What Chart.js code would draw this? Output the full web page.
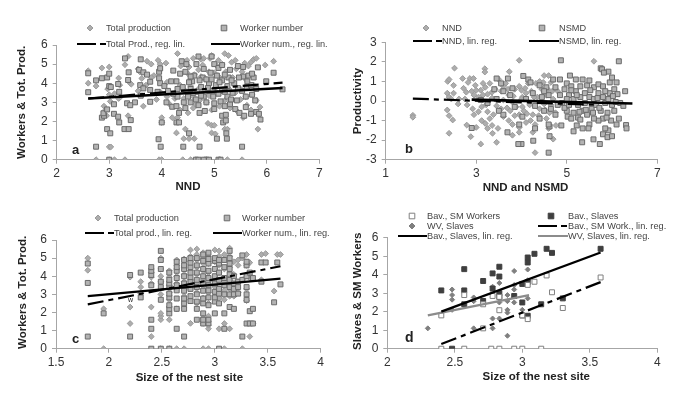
<!DOCTYPE html>
<html><head><meta charset="utf-8">
<style>
html,body{margin:0;padding:0;background:#fff;overflow:hidden}
body{width:685px;height:400px;position:relative}
canvas{position:absolute;filter:blur(.45px)}
</style>
<script src="https://cdn.jsdelivr.net/npm/chart.js@4"></script>
</head><body>
<canvas id="ca" width="342" height="200" style="left:0;top:0"></canvas>
<canvas id="cb" width="343" height="200" style="left:342px;top:0"></canvas>
<canvas id="cc" width="342" height="200" style="left:0;top:200px"></canvas>
<canvas id="cd" width="343" height="200" style="left:342px;top:200px"></canvas>
<script>
// ---- panel a ----
const aTotalProduction=[[2.6,4.65],[2.6,4.0],[2.75,3.85],[2.75,0],[2.86,4.8],[2.9,2.8],[2.93,2.6],[2.95,2.3],[2.97,3.7],[3.0,4.85],[3.0,3.4],[3.0,0.67],[3.03,0.67],[3.0,0],[3.02,3.05],[3.1,0],[3.18,4.27],[3.18,3.2],[3.22,3.3],[3.3,0],[3.3,4.97],[3.36,5.4],[3.36,2.3],[3.4,4.0],[3.42,3.95],[3.55,4.75],[3.58,4.6],[3.62,4.25],[3.65,2.8],[3.72,5.15],[3.8,5.0],[3.85,4.4],[3.93,5.2],[3.97,5.0],[3.97,3.55],[3.95,0],[4.0,0],[4.0,2.2],[4.0,1.95],[4.08,5.05],[4.1,4.05],[4.1,3.3],[4.2,2.2],[4.28,1.4],[4.3,2.2],[4.3,5.55],[4.36,4.9],[4.4,5.0],[4.42,1.1],[4.4,0],[4.48,5.2],[4.45,1.6],[4.52,1.1],[4.55,0],[4.62,1.1],[4.65,0],[4.6,5.3],[4.55,4.2],[4.6,3.3],[4.7,4.7],[4.7,3.7],[4.75,5.25],[4.8,5.3],[4.85,4.2],[4.85,3.0],[4.85,0],[4.88,1.9],[4.95,1.8],[5.0,1.8],[4.95,1.4],[5.02,1.35],[4.92,5.3],[4.95,5.45],[5.05,4.9],[5.05,3.5],[5.1,0],[5.2,5.55],[5.15,5.0],[5.2,1.6],[5.25,1.6],[5.2,3.1],[5.27,5.45],[5.25,0],[5.33,5.1],[5.4,5.2],[5.35,4.3],[5.4,3.5],[5.53,0],[5.53,4.6],[5.6,3.3],[5.65,4.9],[5.7,5.1],[5.75,5.25],[5.8,5.3],[5.72,3.4],[5.8,3.1],[5.83,1.6],[5.87,2.75],[5.97,4.95],[6.13,5.15],[4.35,3.9],[4.45,3.6],[4.5,4.5],[4.65,2.9],[4.75,4.35],[4.95,2.6],[5.1,4.3],[5.3,2.7],[5.45,2.5],[5.6,4.2],[5.5,3.7],[5.1,2.8],[4.8,3.6],[4.6,2.7],[4.25,3.2],[3.8,4.3],[3.55,3.6],[3.2,3.9],[3.1,3.45],[5.7,2.6],[5.55,2.2],[4.55,3.85],[4.9,4.6],[4.52,4.85],[4.62,4.45],[4.78,4.95],[5.0,4.55],[5.08,5.2],[5.22,4.6],[5.42,4.75],[5.58,5.05],[5.68,4.45],[4.42,3.2],[4.5,2.45],[4.72,3.1],[4.9,3.35],[5.02,3.75],[5.28,3.7],[5.5,3.15],[5.62,2.85],[5.75,3.9],[4.15,2.9],[4.35,2.6],[3.9,3.15],[3.7,3.9]];
const aWorkerNumber=[[2.6,4.52],[2.6,3.53],[2.75,4.15],[2.86,4.26],[2.96,4.3],[3.0,4.5],[2.75,0.68],[3.0,0],[3.0,3.85],[3.03,3.8],[2.86,2.2],[2.9,2.3],[2.89,2.43],[2.96,2.63],[2.96,1.6],[3.02,1.38],[3.09,2.4],[3.17,2.25],[3.19,1.95],[3.09,2.9],[3.17,3.96],[3.19,3.55],[3.29,1.6],[3.37,1.6],[3.3,5.3],[3.37,4.57],[3.36,4.17],[3.34,2.95],[3.41,2.07],[3.49,3.0],[3.4,2.85],[3.6,5.25],[3.57,4.7],[3.65,4.57],[3.59,3.9],[3.65,3.73],[3.6,3.35],[3.78,4.08],[3.78,3.65],[3.78,3.03],[3.95,4.6],[3.97,4.78],[3.95,4.26],[3.97,4.0],[3.94,1.07],[3.98,0.68],[4.0,1.95],[4.09,3.0],[4.05,3.85],[4.22,4.66],[4.2,2.77],[4.28,2.8],[4.3,3.3],[4.28,1.95],[4.33,1.95],[4.41,0.68],[4.52,1.38],[4.28,4.1],[4.35,4.5],[4.38,5.15],[4.45,4.6],[4.47,5.0],[4.4,3.8],[4.42,3.0],[4.45,2.7],[4.33,2.45],[4.55,3.0],[4.6,3.5],[4.58,4.1],[4.62,4.4],[4.7,5.4],[4.66,5.0],[4.65,3.15],[4.7,2.85],[4.72,2.45],[4.75,3.8],[4.78,4.3],[4.8,4.75],[4.8,3.3],[4.82,2.55],[4.72,0.68],[4.65,0],[4.7,0],[4.85,0],[4.8,0],[4.9,0],[4.9,3.6],[4.9,4.0],[4.93,4.55],[4.95,5.4],[5.0,5.0],[4.98,3.3],[5.0,2.95],[5.0,2.65],[5.03,3.9],[5.05,4.4],[5.08,4.8],[5.05,1.1],[5.08,0],[5.12,0],[5.15,2.3],[5.17,1.95],[5.12,3.05],[5.15,3.6],[5.15,4.15],[5.15,4.95],[5.2,2.8],[5.22,2.35],[5.22,2.05],[5.23,1.38],[5.24,1.1],[5.25,3.3],[5.25,3.85],[5.27,4.3],[5.3,4.7],[5.3,2.9],[5.35,3.5],[5.38,4.0],[5.4,2.65],[5.43,3.1],[5.45,4.9],[5.48,2.45],[5.53,0.68],[5.53,3.6],[5.55,4.35],[5.55,4.85],[5.57,2.3],[5.6,2.75],[5.62,3.8],[5.65,4.4],[5.7,3.9],[5.7,2.4],[5.72,3.4],[5.75,4.3],[5.78,3.1],[5.8,2.5],[5.8,3.7],[5.83,4.83],[5.85,2.4],[5.88,2.1],[5.99,4.1],[6.13,4.55],[6.3,3.68],[4.5,3.3],[4.52,4.05],[4.55,4.35],[4.55,3.7],[4.68,3.55],[4.72,4.15],[4.75,3.35],[4.85,3.0],[4.85,4.2],[4.88,3.75],[4.95,4.2],[4.97,3.6],[5.08,3.45],[5.1,4.05],[5.2,3.55],[5.2,4.45],[5.32,3.15],[5.33,4.15],[5.45,3.75],[5.47,4.3],[5.6,3.3],[5.63,4.1],[5.72,4.5],[4.3,3.7],[4.22,3.45],[4.18,4.1],[4.12,3.6],[3.92,3.55],[3.72,4.45]];
const aProdLine=[[2.6,3.2],[6.3,4.03]];
const aWorkerLine=[[2.6,3.2],[6.3,3.75]];
// ---- panel b ----
const bNND=[[1.6,-0.73],[1.6,-0.83],[2.52,1.68],[2.37,1.0],[2.4,1.1],[2.36,0.4],[2.4,0.2],[2.36,-0.46],[2.4,-0.75],[2.48,-0.97],[2.4,-1.65],[2.5,0.4],[2.5,0.8],[2.45,0.1],[2.6,-0.15],[2.7,1.15],[2.72,0.65],[2.78,0.45],[2.86,1.15],[2.94,1.15],[2.82,0.95],[2.9,0.5],[2.98,0.8],[2.8,-0.2],[2.92,-0.4],[2.95,-0.7],[2.79,-1.23],[2.88,-1.82],[3.0,-1.35],[3.1,-2.2],[3.19,1.65],[3.19,1.48],[3.15,0.9],[3.2,0.7],[3.1,0.55],[3.25,0.35],[3.05,0.2],[3.12,-0.3],[3.25,-0.55],[3.3,-0.9],[3.12,-1.0],[3.2,-1.15],[3.25,-1.4],[3.35,-1.25],[3.36,-1.65],[3.45,-2.11],[3.38,-0.7],[3.42,0.6],[3.5,1.1],[3.55,0.5],[3.55,-0.4],[3.48,-1.4],[3.6,-0.8],[3.65,0.9],[3.73,1.5],[3.72,0.3],[3.75,-0.5],[3.72,-1.0],[3.8,-1.75],[3.8,-1.2],[3.85,0.6],[3.88,-0.3],[3.95,2.08],[3.95,0.75],[3.95,-0.7],[3.95,-1.35],[3.95,-1.6],[4.02,0.2],[4.05,-0.5],[4.08,0.65],[4.1,-1.1],[4.15,0.9],[4.18,-0.2],[4.22,0.5],[4.25,-0.7],[4.25,-1.6],[4.3,-2.64],[4.3,-1.2],[4.32,0.9],[4.35,0.2],[4.4,-0.4],[4.4,1.0],[4.45,0.6],[4.5,1.3],[4.55,-0.9],[4.55,0.3],[4.6,1.3],[4.6,-1.4],[4.62,-0.6],[4.65,0.95],[4.7,0.1],[4.7,-1.95],[4.75,-0.6],[4.76,-1.25],[4.8,0.5],[2.62,0.1],[2.75,0.1],[3.35,0.15],[3.6,0.05],[3.8,-0.05],[4.0,0.1],[4.1,0.4],[4.5,-0.15],[3.05,-0.55],[3.3,0.9],[3.7,0.6],[4.2,-1.0],[4.65,-0.2],[5.6,2.03],[2.95,0.3],[3.0,0.55],[3.15,0.3],[3.22,-0.2],[3.35,0.45],[3.45,-0.25],[3.6,0.75],[3.68,-0.35],[3.82,0.25],[3.85,-0.75],[4.0,0.55],[4.02,-0.3],[4.12,-0.65],[4.28,0.2],[4.38,-0.75],[4.48,0.95],[4.52,-0.45],[4.68,0.5],[4.58,0.6]];
const bNSMD=[[4.87,2.08],[6.15,2.03],[5.75,1.67],[5.78,1.62],[5.92,1.5],[5.82,1.45],[4.6,-2.64],[5.34,-2.11],[5.73,-2.2],[5.59,-1.96],[4.26,-2.03],[4.0,-2.2],[3.93,-2.2],[2.9,-1.38],[3.69,-1.6],[5.07,1.3],[3.45,1.15],[3.7,1.15],[4.04,1.28],[6.29,0.5],[6.31,-1.23],[6.32,-1.4],[4.62,-1.8],[4.62,-1.3],[4.6,-1.2],[4.88,-1.25],[5.15,-1.55],[5.22,-1.25],[5.35,-1.4],[5.5,-1.2],[5.48,-1.4],[5.8,-1.7],[5.9,-1.85],[5.92,-1.5],[6.0,-1.8],[5.85,-1.4],[6.1,-1.2],[5.98,-1.0],[5.8,-0.9],[5.7,-1.0],[6.15,-0.9],[3.5,-0.5],[3.6,-0.7],[3.4,0.6],[3.55,0.9],[3.6,0.5],[3.75,0.3],[3.85,-0.3],[3.95,-1.2],[4.02,-0.8],[4.15,1.1],[4.25,0.4],[4.3,-1.4],[4.4,0.8],[4.4,-0.9],[4.45,0.2],[4.5,-0.5],[4.55,0.7],[4.6,0.3],[4.65,-0.4],[4.7,1.1],[4.85,1.1],[4.75,0.7],[4.85,0.3],[4.9,-0.1],[4.95,0.6],[5.0,0.9],[5.0,-0.5],[5.02,-0.8],[5.05,0.3],[5.1,0.75],[5.1,-0.9],[5.15,0.1],[5.15,-0.6],[5.2,1.1],[5.2,0.5],[5.25,-0.2],[5.25,-0.85],[5.3,0.75],[5.3,0.2],[5.35,1.1],[5.35,-0.5],[5.4,0.4],[5.4,-0.1],[5.45,0.8],[5.45,-0.7],[5.5,1.05],[5.5,0.2],[5.55,-0.4],[5.6,0.7],[5.6,-0.9],[5.6,0.1],[5.65,-0.2],[5.7,0.85],[5.7,0.4],[5.75,-0.5],[5.8,0.75],[5.8,0.2],[5.85,-0.1],[5.9,-0.6],[5.95,0.95],[5.95,0.4],[6.0,1.2],[6.0,-0.2],[6.05,0.6],[6.05,-0.5],[6.1,0.95],[6.12,0.35],[6.18,-0.1],[6.25,-0.25],[5.0,0.1],[5.22,0.3],[3.1,0.05],[3.25,-0.1],[3.45,0.1],[3.8,0.65],[4.1,0.1],[4.2,0.95],[4.3,-0.25],[4.5,0.5],[4.75,-0.7],[4.8,-0.2],[4.95,-0.35],[5.05,-0.2],[5.28,-0.55],[5.42,-0.45],[5.52,0.55],[5.58,-0.6],[5.68,0.15],[5.72,-0.35],[5.85,0.5],[5.88,-0.85],[5.92,0.1],[6.02,0.25],[6.08,-0.05],[5.3,-0.95],[5.1,0.55]];
const bNNDLine=[[1.6,0.12],[5.7,-0.2]];
const bNSMDLine=[[2.9,0.07],[6.45,-0.13]];
// ---- panel c: [site size, values...] columns ----
const cTotalProductionColumns=[[1.8,4.33,5.0],[1.95,0,2.2],[2.2,1.39,2.3,3.95],[2.3,3.05,3.4,3.7],[2.4,0.67,2.3,3.6,3.95,4.2],[2.49,0,1.6,1.8,1.95,3.0,3.7,4.0,4.4,5.0],[2.57,0,1.6,2.3,2.7,3.1,3.5,3.95,4.3],[2.64,0,2.2,3.3,3.6,4.0,4.6,4.9],[2.71,0,2.3,2.9,3.3,3.7,4.1,4.5,4.95],[2.77,1.4,2.7,3.3,3.8,4.3,4.8,5.1,5.45],[2.83,2.5,3.1,3.6,4.1,4.5,4.9,5.2,5.5],[2.89,0,1.4,1.7,2.8,3.3,3.8,4.3,4.7,5.0,5.3],[2.94,0,1.1,1.3,1.8,2.5,3.1,3.7,4.2,4.7,5.1],[3.0,2.9,3.4,3.9,4.4,4.8,5.45],[3.04,1.1,2.8,3.2,3.7,4.2,4.6,5.1,5.4],[3.09,0,1.39,2.7,3.2,3.7,4.4,4.9,5.2],[3.14,1.1,2.9,3.3,3.9,4.5,5.1,5.55],[3.18,2.9,3.4,4.1,4.8],[3.22,3.1,3.7,4.6,4.9],[3.26,0,3.8,5.0],[3.3,2.65,3.3,4.0,4.6,5.2],[3.33,0.67,1.4,3.9,4.75],[3.36,1.4],[3.44,3.8,5.2],[3.48,5.25],[3.56,3.18],[3.59,5.2],[3.62,5.2]];
const cWorkerNumberColumns=[[1.8,0.67,3.63,4.7],[1.95,1.95],[2.2,0.67,4.07],[2.3,2.83,4.2],[2.4,0,1.1,1.6,3.5,4.07,4.3,4.5],[2.49,0,2.7,3.4,3.7,4.4,4.9,5.4],[2.57,0,1.95,2.2,2.4,2.83,3.04,3.4,3.6,3.8,4.2],[2.64,1.1,2.2,2.77,3.22,3.5,3.9,4.3,4.5,4.8],[2.71,0.67,2.2,2.5,2.77,3.2,3.6,4.0,4.4,4.6,4.9],[2.77,2.63,2.9,3.3,3.7,3.95,4.2,4.5,4.75,5.0],[2.83,1.6,2.2,2.6,3.0,3.4,3.8,4.2,4.6,5.0],[2.89,1.39,1.6,1.95,2.5,2.77,3.2,3.6,4.0,4.4,4.85,5.2],[2.94,1.4,1.6,2.4,2.83,3.22,3.5,3.9,4.3,4.7,4.95,5.3],[3.0,1.95,2.6,2.83,3.14,3.6,4.0,4.4,4.85,5.0],[3.04,0,2.5,3.04,3.3,3.8,4.2,4.7,4.9],[3.09,1.1,1.95,3.0,3.5,3.9,4.5,4.9],[3.14,2.3,3.0,3.4,3.8,4.1,4.4,4.7,5.0,5.4],[3.18,2.2,3.0,3.3,3.6,4.0],[3.22,3.04,3.4,3.7],[3.26,0.67,3.8,5.15],[3.3,1.39,2.7,3.0,3.4,4.0,4.6,4.8],[3.33,1.39,2.07,4.2],[3.36,1.39,2.2,3.9],[3.44,3.7,4.76],[3.48,4.76],[3.56,2.56],[3.59,4.76],[3.62,3.55]];
const cProdLine=[[1.8,2.45],[3.62,4.55]];
const cWorkerLine=[[1.8,2.9],[3.62,3.87]];
// ---- panel d ----
const dBavWorkers=[[2.4,0],[2.57,0],[2.77,0],[2.83,0],[2.94,0],[3.0,0],[3.14,0],[2.4,1.8],[2.57,2.9],[2.71,2.4],[2.71,1.1],[2.78,2.85],[2.83,2.08],[2.83,2.8],[3.0,1.8],[3.04,3.45],[3.04,1.6],[3.09,3.62],[3.18,3.96],[3.22,3.05],[3.3,2.2],[3.58,3.85]];
const dBavSlaves=[[2.48,0],[2.4,3.15],[2.57,4.3],[2.57,3.15],[2.57,2.4],[2.71,3.66],[2.71,2.58],[2.78,4.07],[2.78,3.25],[2.83,4.43],[2.83,3.9],[2.83,3.0],[2.83,2.8],[2.94,2.85],[3.0,3.5],[3.0,2.5],[3.0,1.8],[3.04,4.93],[3.04,4.66],[3.04,3.6],[3.04,1.78],[3.09,5.13],[3.14,2.4],[3.18,5.4],[3.22,5.18],[3.3,2.72],[3.58,5.4]];
const dWVSlaves=[[2.3,1.1],[2.48,3.2],[2.48,2.9],[2.48,2.65],[2.48,2.1],[2.64,2.77],[2.64,2.57],[2.64,1.1],[2.78,3.35],[2.78,1.63],[2.78,1.1],[2.83,3.55],[2.83,2.5],[2.83,1.63],[2.89,2.9],[2.89,2.57],[2.89,2.1],[2.89,1.95],[2.89,0.7],[2.94,4.2],[2.94,3.44],[2.94,3.2],[2.94,2.5],[3.0,2.1],[3.04,4.28],[3.04,3.7],[3.04,2.72]];
const dBavWorkersLine=[[2.4,0.25],[3.58,3.6]];
const dBavSlavesLine=[[2.4,2.0],[3.58,5.2]];
const dWVSlavesLine=[[2.3,1.8],[3.05,2.9]];

const FONT='"Liberation Sans",Arial,sans-serif';
const pts=a=>a.map(([x,y])=>({x,y}));
const cols=c=>c.flatMap(([x,...ys])=>ys.map(y=>({x,y})));
const diamond=(label,data,fill='#adadad',edge='#9a9a9a',r=2.9)=>({type:'scatter',label,data,order:3,pointStyle:'rectRot',pointRadius:r,backgroundColor:fill,borderColor:edge,pointBorderWidth:1});
const square=(label,data,fill='#b3b3b3',edge='#6a6a6a',order=2)=>({type:'scatter',label,data,order,pointStyle:'rect',pointRadius:3.5,backgroundColor:fill,borderColor:edge,pointBorderWidth:1});
const line=(label,data,color='#000',dash=[],w=2.2)=>({type:'scatter',label,data:pts(data),order:1,showLine:true,pointRadius:0,borderColor:color,borderWidth:w,borderDash:dash,backgroundColor:color,clip:false});

const panelText={
 id:'panelText',
 afterDatasetsDraw(chart,args,o){
  const c=chart.ctx;c.save();
  c.textBaseline='middle';c.textAlign='left';
  for(const it of o.legend){
   const d=chart.data.datasets[it.i];
   c.font='9.2px '+FONT;c.fillStyle='#444';
   c.fillText(d.label,it.tx,it.y);
   if(d.showLine){
    c.strokeStyle=d.borderColor;c.lineWidth=2;c.setLineDash(d.borderDash.length?[19,4,6,4]:[]);
    c.beginPath();c.moveTo(it.x0,it.y);c.lineTo(it.tx,it.y);c.stroke();c.setLineDash([]);
   }else{
    c.fillStyle=d.backgroundColor;c.strokeStyle=d.borderColor;c.lineWidth=1;
    c.beginPath();
    if(d.pointStyle==='rectRot'){c.moveTo(it.mx-3,it.y);c.lineTo(it.mx,it.y-3);c.lineTo(it.mx+3,it.y);c.lineTo(it.mx,it.y+3);c.closePath();}
    else c.rect(it.mx-2.8,it.y-2.8,5.6,5.6);
    c.fill();c.stroke();
   }
  }
  c.fillStyle='#222';
  for(const t of o.notes){c.font=t.font+FONT;c.fillText(t.text,t.x,t.y);}
  c.restore();
 }
};

// nudges a scale's native title along its own axis
function shiftTitle(s,dx,dy){
 if(s.$shifted)return;s.$shifted=true;
 const orig=s.drawTitle;
 s.drawTitle=function(){const c=this.ctx;c.save();c.translate(dx,dy);orig.call(this);c.restore();};
}

function draw(id,p){
 new Chart(document.getElementById(id),{
  data:{datasets:p.datasets},
  plugins:[panelText],
  options:{
   responsive:false,animation:false,
   layout:{autoPadding:false,padding:{top:p.top,right:p.right,left:0,bottom:0}},
   plugins:{legend:{display:false},tooltip:{enabled:false},title:{display:false},panelText:{legend:p.legend,notes:p.notes}},
   scales:{
    x:{type:'linear',min:p.xMin,max:p.xMax,afterFit:s=>{s.height=p.bottom;shiftTitle(s,p.xTitleShift||0,0)},
     afterBuildTicks:s=>{s.ticks=p.xTicks.map(value=>({value}))},
     grid:{drawOnChartArea:false,color:'#a6a6a6',tickLength:4},border:{color:'#a6a6a6'},
     ticks:{color:'#333',font:{family:FONT,size:12},padding:3,maxRotation:0,autoSkip:false,callback:v=>String(v)},
     title:{display:true,text:p.xTitle,color:'#222',font:{family:FONT,size:11.5,weight:'bold'},padding:{top:0,bottom:p.xTitleBottom}}},
    y:{type:'linear',min:p.yMin,max:p.yMax,afterFit:s=>{s.width=p.left;shiftTitle(s,0,p.yTitleShift||0)},
     afterBuildTicks:s=>{s.ticks=p.yTicks.map(value=>({value}))},
     grid:{drawOnChartArea:false,color:'#a6a6a6',tickLength:4},border:{color:'#a6a6a6'},
     ticks:{color:'#333',font:{family:FONT,size:12},padding:5,autoSkip:false,callback:v=>String(v)},
     title:{display:true,text:p.yTitle,color:'#222',font:{family:FONT,size:11.5,weight:'bold'},padding:{top:p.yTitleLeft,bottom:0}}}
   }
  }
 });
}

const workerTicks=[0,1,2,3,4,5,6];
draw('ca',{
 datasets:[diamond('Total production',pts(aTotalProduction)),square('Worker number',pts(aWorkerNumber)),line('Total Prod., reg. lin.',aProdLine,'#000',[16,5,5,5]),line('Worker num., reg. lin.',aWorkerLine,'#000',[],2.6)],
 top:45,left:56.7,right:22.7,bottom:40.3,xMin:2,xMax:7,yMin:0,yMax:6,xTicks:[2,3,4,5,6,7],yTicks:workerTicks,
 xTitle:'NND',yTitle:'Workers & Tot. Prod.',xTitleBottom:6,yTitleLeft:15,
 legend:[{i:0,mx:90,tx:106,y:28},{i:1,mx:224,tx:240,y:28},{i:2,x0:77,tx:106,y:44},{i:3,x0:211,tx:240,y:44}],
 notes:[{text:'a',x:72,y:150,font:'bold 13px '}]
});
draw('cb',{
 datasets:[diamond('NND',pts(bNND)),square('NSMD',pts(bNSMD)),line('NND, lin. reg.',bNNDLine,'#000',[16,5,5,5]),line('NSMD, lin. reg.',bNSMDLine,'#000',[],2.6)],
 top:42.3,left:43.7,right:27.7,bottom:40.3,xMin:1,xMax:7,yMin:-3,yMax:3,xTicks:[1,3,5,7],yTicks:[-3,-2,-1,0,1,2,3],
 xTitle:'NND and NSMD',yTitle:'Productivity',xTitleBottom:5,yTitleLeft:9,xTitleShift:4,
 legend:[{i:0,mx:84,tx:100,y:28},{i:1,mx:200,tx:217,y:28},{i:2,x0:71,tx:100,y:41},{i:3,x0:187,tx:217,y:41}],
 notes:[{text:'b',x:63,y:149,font:'bold 13px '}]
});
draw('cc',{
 datasets:[diamond('Total production',cols(cTotalProductionColumns)),square('Worker number',cols(cWorkerNumberColumns)),line('Total prod., lin. reg.',cProdLine,'#000',[16,5,5,5]),line('Worker num., lin. reg.',cWorkerLine,'#000',[],2.2)],
 top:40,left:56,right:21.3,bottom:51.3,xMin:1.5,xMax:4,yMin:0,yMax:6,xTicks:[1.5,2,2.5,3,3.5,4],yTicks:workerTicks,
 xTitle:'Size of the nest site',yTitle:'Workers & Tot. Prod.',xTitleBottom:15,yTitleLeft:16,xTitleShift:1,yTitleShift:-2,
 legend:[{i:0,mx:98,tx:114,y:18},{i:1,mx:227,tx:242,y:18},{i:2,x0:85,tx:114,y:33},{i:3,x0:213,tx:242,y:33}],
 notes:[{text:'c',x:72,y:139,font:'bold 13px '},{text:'w',x:128,y:100,font:'7px '}]
});
draw('cd',{
 datasets:[square('Bav., SM Workers',pts(dBavWorkers),'#fff','#808080'),square('Bav., Slaves',pts(dBavSlaves),'#3f3f3f','#3f3f3f'),diamond('WV, Slaves',pts(dWVSlaves),'#7f7f7f','#7f7f7f',2.5),line('Bav., SM Work., lin. reg.',dBavWorkersLine,'#000',[16,5,5,5]),line('Bav., Slaves, lin. reg.',dBavSlavesLine,'#000',[],2.4),line('WV, Slaves, lin. reg.',dWVSlavesLine,'#8c8c8c',[],2.2)],
 top:37.7,left:45.3,right:27.7,bottom:51.3,xMin:2,xMax:4,yMin:0,yMax:6,xTicks:[2,2.5,3,3.5,4],yTicks:workerTicks,
 xTitle:'Size of the nest site',yTitle:'Slaves & SM Workers',xTitleBottom:16,yTitleLeft:9,xTitleShift:14,yTitleShift:-2,
 legend:[{i:0,mx:70,tx:85,y:16},{i:1,mx:209,tx:226,y:16},{i:2,mx:70,tx:85,y:26},{i:3,x0:196,tx:226,y:26},{i:4,x0:56,tx:85,y:36},{i:5,x0:196,tx:226,y:36}],
 notes:[{text:'d',x:63,y:138,font:'bold 14px '}]
});
</script>
</body></html>
